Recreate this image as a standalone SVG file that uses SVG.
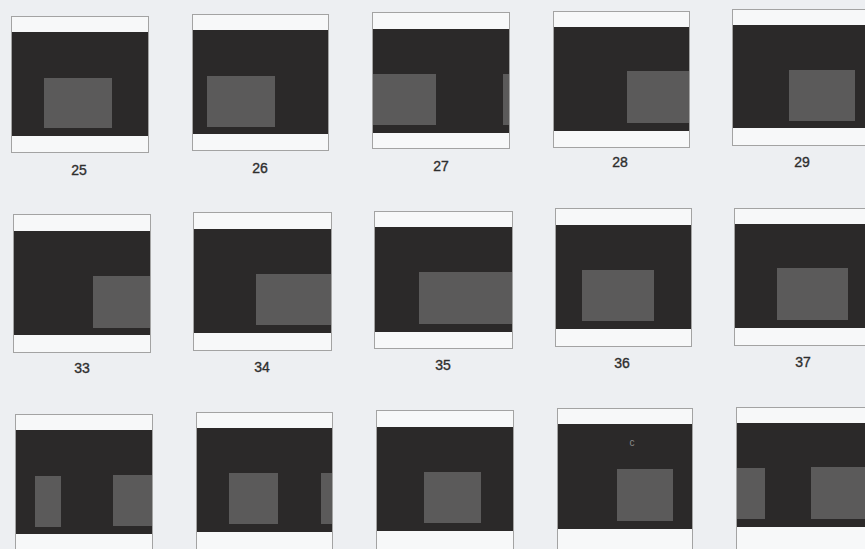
<svg xmlns="http://www.w3.org/2000/svg" width="865" height="549" viewBox="0 0 865 549">
<style>
.bg{fill:#edeff2}
.fr{fill:#f7f8f9;stroke:#a3a3a3;stroke-width:1}
.dk{fill:#2b2929}
.gr{fill:#5b5a5a}
.lb{font-family:"Liberation Sans",Arial,sans-serif;font-size:14px;fill:#2e2e2e;stroke:#2e2e2e;stroke-width:0.35;text-anchor:middle}
</style>
<rect class="bg" x="0" y="0" width="865" height="549"/>
<g id="frame25"><rect class="fr" x="11.5" y="16.5" width="137" height="136"/><rect class="dk" x="12" y="32" width="136" height="104"/><rect class="gr" x="44" y="78" width="68" height="50"/><text class="lb" x="79" y="175">25</text></g>
<g id="frame26"><rect class="fr" x="192.5" y="14.5" width="136" height="136"/><rect class="dk" x="193" y="30" width="135" height="104"/><rect class="gr" x="207" y="76" width="68" height="51"/><text class="lb" x="260" y="173">26</text></g>
<g id="frame27"><rect class="fr" x="372.5" y="12.5" width="137" height="136"/><rect class="dk" x="373" y="29" width="136" height="104"/><rect class="gr" x="373" y="74" width="63" height="51"/><rect class="gr" x="503" y="74" width="6" height="51"/><text class="lb" x="441" y="171">27</text></g>
<g id="frame28"><rect class="fr" x="553.5" y="11.5" width="136" height="136"/><rect class="dk" x="554" y="27" width="135" height="104"/><rect class="gr" x="627" y="71" width="62" height="52"/><text class="lb" x="620" y="167">28</text></g>
<g id="frame29"><rect class="fr" x="732.5" y="9.5" width="140" height="136"/><rect class="dk" x="733" y="25" width="132" height="103"/><rect class="gr" x="789" y="70" width="66" height="51"/><text class="lb" x="802" y="167">29</text></g>
<g id="frame33"><rect class="fr" x="13.5" y="214.5" width="137" height="138"/><rect class="dk" x="14" y="231" width="136" height="104"/><rect class="gr" x="93" y="276" width="57" height="52"/><text class="lb" x="82" y="373">33</text></g>
<g id="frame34"><rect class="fr" x="193.5" y="212.5" width="138" height="138"/><rect class="dk" x="194" y="229" width="137" height="104"/><rect class="gr" x="256" y="274" width="75" height="51"/><text class="lb" x="262" y="372">34</text></g>
<g id="frame35"><rect class="fr" x="374.5" y="211.5" width="138" height="137"/><rect class="dk" x="375" y="227" width="137" height="105"/><rect class="gr" x="419" y="272" width="93" height="52"/><text class="lb" x="443" y="370">35</text></g>
<g id="frame36"><rect class="fr" x="555.5" y="208.5" width="136" height="138"/><rect class="dk" x="556" y="225" width="135" height="104"/><rect class="gr" x="582" y="270" width="72" height="51"/><text class="lb" x="622" y="368">36</text></g>
<g id="frame37"><rect class="fr" x="734.5" y="208.5" width="140" height="137"/><rect class="dk" x="735" y="224" width="130" height="104"/><rect class="gr" x="777" y="268" width="71" height="52"/><text class="lb" x="803" y="367">37</text></g>
<g id="frame41"><rect class="fr" x="15.5" y="414.5" width="137" height="145"/><rect class="dk" x="16" y="430" width="136" height="104"/><rect class="gr" x="35" y="476" width="26" height="51"/><rect class="gr" x="113" y="475" width="39" height="51"/></g>
<g id="frame42"><rect class="fr" x="196.5" y="412.5" width="136" height="145"/><rect class="dk" x="197" y="428" width="135" height="104"/><rect class="gr" x="229" y="473" width="49" height="51"/><rect class="gr" x="321" y="473" width="11" height="51"/></g>
<g id="frame43"><rect class="fr" x="376.5" y="410.5" width="137" height="145"/><rect class="dk" x="377" y="427" width="136" height="104"/><rect class="gr" x="424" y="472" width="57" height="51"/></g>
<g id="frame44"><rect class="fr" x="557.5" y="408.5" width="135" height="145"/><rect class="dk" x="558" y="424" width="134" height="105"/><rect class="gr" x="617" y="469" width="56" height="52"/><text x="632" y="446" font-family="Liberation Sans,Arial,sans-serif" font-size="10" fill="#8a8a8a" text-anchor="middle">c</text></g>
<g id="frame45"><rect class="fr" x="736.5" y="407.5" width="140" height="145"/><rect class="dk" x="737" y="423" width="128" height="104"/><rect class="gr" x="737" y="468" width="28" height="51"/><rect class="gr" x="811" y="467" width="54" height="52"/></g>
<g id="connectors"></g>
</svg>
